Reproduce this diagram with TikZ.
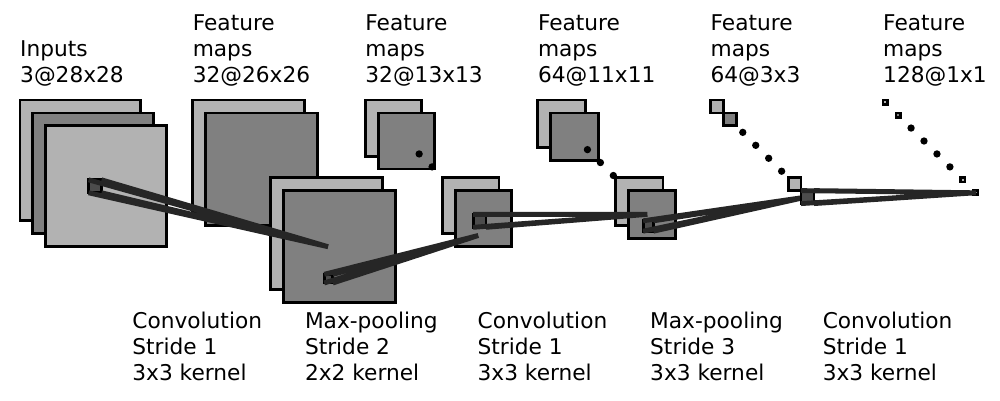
\documentclass[tikz,border=0pt]{standalone}
\usepackage{fontspec}
\setmainfont{DejaVu Sans}
\definecolor{lightg}{gray}{0.7}
\definecolor{mediumg}{gray}{0.5}
\definecolor{darkg}{gray}{0.3}
\definecolor{darkerg}{gray}{0.15}
\begin{document}
\begin{tikzpicture}[x=4.315pt,y=4.315pt,
  fmap/.style={draw=black,line width=2.9pt},
  lightmap/.style={fmap,fill=lightg},
  medmap/.style={fmap,fill=mediumg},
  kern/.style={fmap,fill=darkg},
  conn/.style={draw=darkerg,line width=4.9pt},
  lbl/.style={anchor=base west,inner sep=0pt,align=left,font=\fontsize{21.7}{26}\selectfont}]
\useasboundingbox (-4.635,-69.525) rectangle (227.11,23.175);
% layer 1
\draw[lightmap] (0,-28) rectangle ++(28,28);
\draw[medmap] (3,-31) rectangle ++(28,28);
\draw[lightmap] (6,-34) rectangle ++(28,28);
% layers 2-6
\foreach \X/\s in {40/26, 80/13, 120/11, 160/3, 200/1}{
  \draw[lightmap] (\X,-\s) rectangle ++(\s,\s);
  \draw[medmap] (\X+3,-\s-3) rectangle ++(\s,\s);
  \foreach \i in {2,...,5}
    \fill[black] (\X+3*\i+\s/2, -3*\i-\s/2) circle[radius=0.85];
  \draw[lightmap] (\X+18,-\s-18) rectangle ++(\s,\s);
  \draw[medmap] (\X+21,-\s-21) rectangle ++(\s,\s);
}
% mapping 1
\coordinate (k1a) at (15.9,-18.5); \coordinate (k1b) at (18.9,-18.5);
\coordinate (k1c) at (15.9,-21.5); \coordinate (k1d) at (18.9,-21.5);
\coordinate (e1) at (71.4,-34);
\draw[kern] (k1a) rectangle (k1d);
\draw[conn] (k1a) -- (e1) (k1b) -- (e1) (k1c) -- (e1) (k1d) -- (e1);
% mapping 2
\coordinate (k2a) at (70.5,-40.4); \coordinate (k2b) at (72.5,-40.4);
\coordinate (k2c) at (70.5,-42.4); \coordinate (k2d) at (72.5,-42.4);
\coordinate (e2) at (106.2,-31.4);
\draw[kern] (k2a) rectangle (k2d);
\draw[conn] (k2a) -- (e2) (k2b) -- (e2) (k2c) -- (e2) (k2d) -- (e2);
% mapping 3
\coordinate (k3a) at (105,-26.5); \coordinate (k3b) at (108,-26.5);
\coordinate (k3c) at (105,-29.5); \coordinate (k3d) at (108,-29.5);
\coordinate (e3) at (145.4,-26.5);
\draw[kern] (k3a) rectangle (k3d);
\draw[conn] (k3a) -- (e3) (k3b) -- (e3) (k3c) -- (e3) (k3d) -- (e3);
% mapping 4
\coordinate (k4a) at (144.4,-28); \coordinate (k4b) at (146.8,-28);
\coordinate (k4c) at (144.4,-30.4); \coordinate (k4d) at (146.8,-30.4);
\coordinate (e4) at (182.2,-22.5);
\draw[kern] (k4a) rectangle (k4d);
\draw[conn] (k4a) -- (e4) (k4b) -- (e4) (k4c) -- (e4) (k4d) -- (e4);
% mapping 5
\coordinate (k5a) at (181,-21); \coordinate (k5b) at (184,-21);
\coordinate (k5c) at (181,-24); \coordinate (k5d) at (184,-24);
\coordinate (e5) at (221.5,-21.5);
\draw[kern] (k5a) rectangle (k5d);
\draw[conn] (k5a) -- (e5) (k5b) -- (e5) (k5c) -- (e5) (k5d) -- (e5);
% top labels (anchor at baseline of last line)
\node[lbl] (t0) at (0,4) {Inputs\\3@28x28};
\node[lbl] (t1) at (40,4) {Feature\\maps\\32@26x26};
\node[lbl] (t2) at (80,4) {Feature\\maps\\32@13x13};
\node[lbl] (t3) at (120,4) {Feature\\maps\\64@11x11};
\node[lbl] (t4) at (160,4) {Feature\\maps\\64@3x3};
\node[lbl] (t5) at (200,4) {Feature\\maps\\128@1x1};
% bottom labels
\node[lbl] (b0) at (26,-65) {Convolution\\Stride 1\\3x3 kernel};
\node[lbl] (b1) at (66,-65) {Max-pooling\\Stride 2\\2x2 kernel};
\node[lbl] (b2) at (106,-65) {Convolution\\Stride 1\\3x3 kernel};
\node[lbl] (b3) at (146,-65) {Max-pooling\\Stride 3\\3x3 kernel};
\node[lbl] (b4) at (186,-65) {Convolution\\Stride 1\\3x3 kernel};
\end{tikzpicture}
\end{document}
